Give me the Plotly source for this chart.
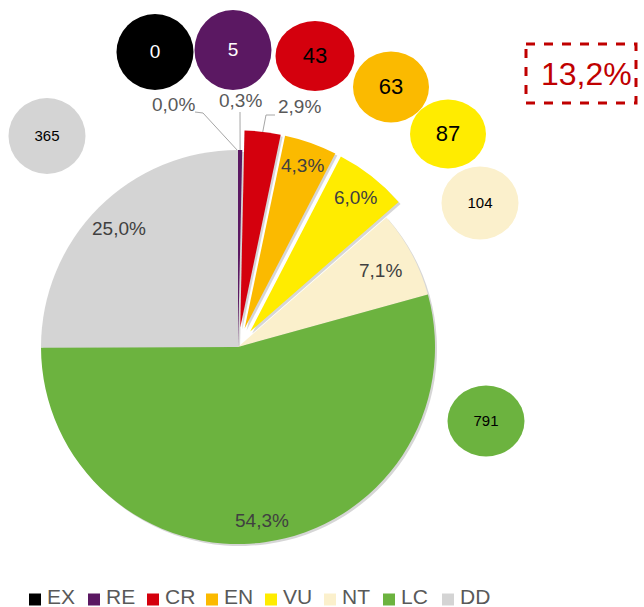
import math
import plotly.graph_objects as go

# ---- data ----
categories = ["EX", "RE", "CR", "EN", "VU", "NT", "LC", "DD"]
counts = [0, 5, 43, 63, 87, 104, 791, 365]
colors = ["#000000", "#5B1862", "#D4000D", "#FBBA00", "#FFEC00", "#FBF0CC", "#6CB33F", "#D4D4D4"]
threatened = ["CR", "EN", "VU"]

# ---- layout constants ----
W, H = 644, 607
CX, CY, R = 238, 347, 197
PULL = 0.1
pulls = [PULL if c in threatened else 0 for c in categories]
outside_labels = ["EX", "RE", "CR"]
# radial position (fraction of radius) of inside labels
label_rfrac = {"EN": 0.88, "VU": 0.865, "NT": 0.82, "LC": 0.89, "DD": 0.85}
FONT = "Liberation Sans, Arial"
LEG_X0, LEG_DX, LEG_SYM_Y, LEG_TXT_Y, LEG_GAP = 35, 59, 599.5, 596, 11
SHADOW_DX, SHADOW_DY = 2, 2

total = sum(counts)
pct = [v / total for v in counts]

def fmt(p, nd=1):
    return f"{p*100:.{nd}f}".replace(".", ",") + "%"

def pie_domain(cx, cy):
    rmax = R * (1 + PULL)
    return dict(x=[(cx - rmax) / W, (cx + rmax) / W],
                y=[1 - (cy + rmax) / H, 1 - (cy - rmax) / H])

fig = go.Figure()

# soft shadow under the pie
fig.add_trace(go.Pie(
    labels=categories, values=counts, sort=False, direction="clockwise", rotation=0,
    pull=pulls,
    marker=dict(colors=["rgba(0,0,0,0.16)"] * len(categories), line=dict(width=0)),
    textinfo="none", hoverinfo="skip",
    domain=pie_domain(CX + SHADOW_DX, CY + SHADOW_DY),
    showlegend=False,
))

fig.add_trace(go.Pie(
    labels=categories, values=counts, sort=False, direction="clockwise", rotation=0,
    pull=pulls,
    marker=dict(colors=colors, line=dict(width=0)),
    textinfo="none",
    domain=pie_domain(CX, CY),
    hoverinfo="label+value+percent",
    showlegend=False,
))

# mid angles of slices (clockwise from 12 o'clock)
cum = 0
mids = {}
for c, p in zip(categories, pct):
    mids[c] = (cum + p / 2) * 2 * math.pi
    cum += p

def polar(c, rr):
    th = mids[c]
    return CX + rr * math.sin(th), CY - rr * math.cos(th)

# inside labels
for c, frac in label_rfrac.items():
    i = categories.index(c)
    x, y = polar(c, R * (frac + pulls[i]))
    fig.add_annotation(x=x, y=y, xref="x", yref="y", text=fmt(pct[i]), showarrow=False,
                       font=dict(family=FONT, size=19, color="#404040"))

# outside labels with leader lines, anchored at slice outer edge (mid-angle)
label_pos = {"EX": (173, 104), "RE": (240, 100), "CR": (299, 106)}
elbow = {"EX": [(195, 112), (203, 113)], "RE": [(240, 112)], "CR": [(275, 115), (266, 115)]}
for c in outside_labels:
    i = categories.index(c)
    ex, ey = polar(c, R * (1 + pulls[i]) - 1)
    pts = elbow[c] + [(ex, ey)]
    fig.add_trace(go.Scatter(x=[p[0] for p in pts], y=[p[1] for p in pts], mode="lines",
                             line=dict(color="#A6A6A6", width=1), showlegend=False, hoverinfo="skip",
                             xaxis="x", yaxis="y"))
    fig.add_annotation(x=label_pos[c][0], y=label_pos[c][1], xref="x", yref="y", text=fmt(pct[i]),
                       showarrow=False, font=dict(family=FONT, size=19, color="#595959"))

# count bubbles
bubble_pos = {"EX": (155, 52, 77, 76), "RE": (233, 50, 77, 80), "CR": (315, 56, 79, 70),
              "EN": (391, 87, 76, 71), "VU": (448, 134, 76, 69), "NT": (480, 203, 77, 73),
              "LC": (486, 421, 77, 71), "DD": (47, 136, 77, 76)}
bubble_font = {"EX": 19, "RE": 19, "CR": 22, "EN": 22, "VU": 22, "NT": 15, "LC": 15, "DD": 15}
bubble_txtcol = {"EX": "#FFFFFF", "RE": "#FFFFFF"}
bx, by, bt, bs, bc = [], [], [], [], []
for c, v, col in zip(categories, counts, colors):
    x0, y0, w, h = bubble_pos[c]
    fig.add_shape(type="circle", xref="x", yref="y", x0=x0 - w / 2, x1=x0 + w / 2,
                  y0=y0 - h / 2, y1=y0 + h / 2, fillcolor=col, line=dict(width=0), layer="below")
    bx.append(x0); by.append(y0 + 1); bt.append(str(v))
    bs.append(bubble_font[c]); bc.append(bubble_txtcol.get(c, "#000000"))
fig.add_trace(go.Scatter(x=bx, y=by, mode="text", text=bt,
                         textfont=dict(family=FONT, size=bs, color=bc),
                         showlegend=False, hoverinfo="skip", xaxis="x", yaxis="y"))

# threatened share box
thr = sum(v for c, v in zip(categories, counts) if c in threatened) / total
fig.add_shape(type="rect", xref="x", yref="y", x0=526, x1=636, y0=44, y1=103,
              line=dict(color="#C00000", width=3, dash="dash"), fillcolor="rgba(0,0,0,0)")
fig.add_annotation(x=586, y=74, xref="x", yref="y", text=fmt(thr), showarrow=False,
                   font=dict(family=FONT, size=32, color="#C00000"))

# legend (square swatches + labels)
leg_x = [LEG_X0 + LEG_DX * i for i in range(len(categories))]
fig.add_trace(go.Scatter(x=leg_x, y=[LEG_SYM_Y] * len(categories), mode="markers",
                         marker=dict(symbol="square", size=12, color=colors, line=dict(width=0)),
                         showlegend=False, hoverinfo="skip", xaxis="x", yaxis="y"))
for c, x in zip(categories, leg_x):
    fig.add_annotation(x=x + LEG_GAP, y=LEG_TXT_Y, xref="x", yref="y", text=c, showarrow=False,
                       xanchor="left", yanchor="middle", borderpad=0,
                       font=dict(family=FONT, size=21, color="#595959"))

fig.update_layout(
    width=W, height=H,
    margin=dict(l=0, r=0, t=0, b=0, autoexpand=False),
    paper_bgcolor="white", plot_bgcolor="rgba(0,0,0,0)",
    separators=",.",
    xaxis=dict(range=[0, W], visible=False, fixedrange=True, domain=[0, 1]),
    yaxis=dict(range=[H, 0], visible=False, fixedrange=True, domain=[0, 1]),
    showlegend=False,
)

fig.write_html("out.html", config={"displayModeBar": False},
               post_script="document.body.style.margin='0px';")
